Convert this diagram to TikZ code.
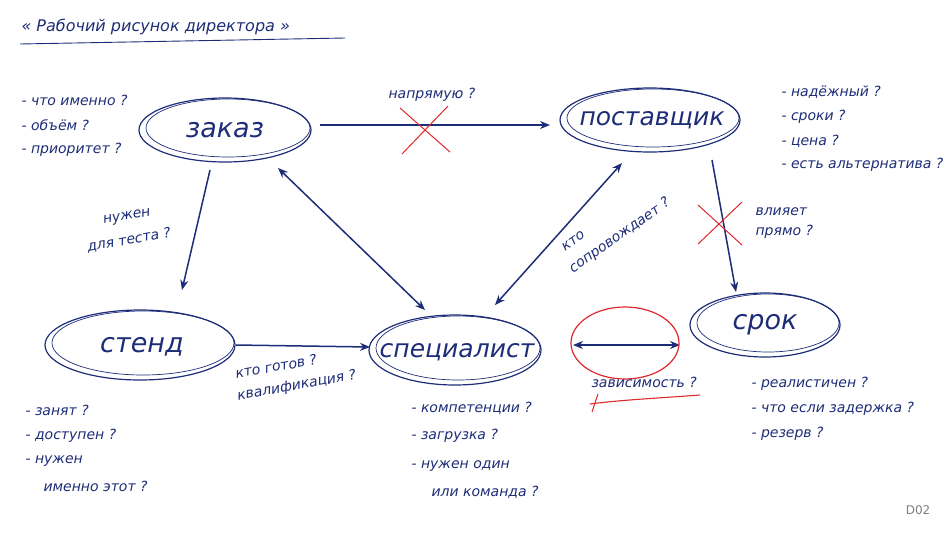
\documentclass[tikz,border=0pt]{standalone}
\usepackage{fontspec}
\setmainfont{DejaVu Sans}
\usetikzlibrary{arrows.meta}
\definecolor{ink}{HTML}{1E2D78}
\definecolor{rd}{HTML}{E0282E}
\begin{document}
\begin{tikzpicture}[x=1pt,y=-1pt,
  every node/.style={text=ink},
  lbl/.style={font=\itshape\fontsize{14}{19}\selectfont,anchor=west,align=left},
  big/.style={font=\itshape\fontsize{27}{29}\selectfont},
  arr/.style={draw=ink,line width=1.5pt,-{Stealth[length=10pt,width=8pt]}},
  darr/.style={draw=ink,line width=1.5pt,{Stealth[length=10pt,width=8pt]}-{Stealth[length=10pt,width=8pt]}},
  ell/.style={draw=ink,line width=1.2pt}]
\useasboundingbox (0,0) rectangle (949,536);
\fill[white] (0,0) rectangle (949,536);
% ellipses
\foreach \x/\y/\a/\b in {225/130/86/32, 650/120/90/32, 140/345/95/35, 455/350/86/35, 765/325/75/32}{
  \draw[ell] (\x,\y) ellipse [x radius=\a, y radius=\b];
  \draw[ell,line width=0.7pt] (\x+3,\y-2) ellipse [x radius=\a-4, y radius=\b-3];
}
\node[big] (zakaz) at (225,130) {заказ};
\node[big,font=\itshape\fontsize{25}{27}\selectfont] (post) at (652,120) {поставщик};
\node[big] (stend) at (142,347) {стенд};
\node[big,font=\itshape\fontsize{25}{27}\selectfont] (spec) at (457,352) {специалист};
\node[big] (srok) at (765,325) {срок};
\coordinate (a1) at (320,125); \coordinate (a2) at (550,125);
\draw[arr] (a1) -- (a2);
\coordinate (b1) at (210,170); \coordinate (b2) at (182,290);
\draw[arr] (b1) -- (b2);
\coordinate (c1) at (278,168); \coordinate (c2) at (425,310);
\draw[darr] (c1) -- (c2);
\coordinate (d1) at (622,163); \coordinate (d2) at (495,305);
\draw[darr] (d1) -- (d2);
\coordinate (e1) at (712,160); \coordinate (e2) at (736,292);
\draw[arr] (e1) -- (e2);
\coordinate (f1) at (236,345); \coordinate (f2) at (370,347);
\draw[arr] (f1) -- (f2);
\coordinate (g1) at (573,345); \coordinate (g2) at (680,345);
\draw[darr] (g1) -- (g2);
% red marks
\draw[rd,line width=1pt] (400,108) -- (450,152) (448,106) -- (402,154);
\draw[rd,line width=1pt] (698,205) -- (742,245) (742,202) -- (698,244);
\draw[rd,line width=1.2pt] (625,343) ellipse [x radius=54, y radius=36];
\draw[rd,line width=1.1pt] (590,404) .. controls (620,400) and (660,398) .. (700,395);
\draw[rd,line width=1pt] (598,394) -- (592,412);
% labels
\node[lbl] at (385,95) {напрямую ?};
\node[lbl,rotate=10] at (100,222) {нужен};
\node[lbl,rotate=10] at (84,248) {для теста ?};
\node[lbl,rotate=35] at (560,250) {кто};
\node[lbl,rotate=35] at (568,272) {сопровождает ?};
\node[lbl] at (752,212) {влияет};
\node[lbl] at (752,232) {прямо ?};
\node[lbl,rotate=10] at (232,374) {кто готов ?};
\node[lbl,rotate=10] at (234,397) {квалификация ?};
\node[lbl] at (588,382) {зависимость ?};
\node[lbl,font=\itshape\fontsize{16}{18}\selectfont] at (18,27) {« Рабочий рисунок директора »};
\draw[ink,line width=0.9pt] (20,44) -- (345,38);
\node[lbl] at (18,100) {- что именно ?};
\node[lbl] at (18,125) {- объём ?};
\node[lbl] at (18,150) {- приоритет ?};
\node[lbl] at (778,92) {- надёжный ?};
\node[lbl] at (778,117) {- сроки ?};
\node[lbl] at (778,141) {- цена ?};
\node[lbl] at (778,165) {- есть альтернатива ?};
\node[lbl] at (22,410) {- занят ?};
\node[lbl] at (22,436) {- доступен ?};
\node[lbl] at (22,461) {- нужен};
\node[lbl] at (40,486) {именно этот ?};
\node[lbl] at (408,408) {- компетенции ?};
\node[lbl] at (408,436) {- загрузка ?};
\node[lbl] at (408,466) {- нужен один};
\node[lbl] at (428,492) {или команда ?};
\node[lbl] at (748,384) {- реалистичен ?};
\node[lbl] at (748,409) {- что если задержка ?};
\node[lbl] at (748,434) {- резерв ?};
\node[font=\fontsize{12}{14}\selectfont,text=gray] at (918,510) {D02};
\end{tikzpicture}
\end{document}
